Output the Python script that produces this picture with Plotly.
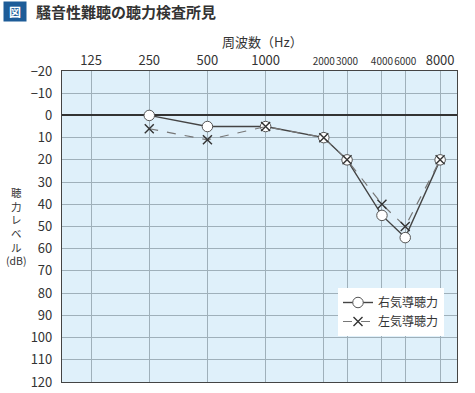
import plotly.graph_objects as go

# ---- data ----
freq_labels = ["125", "250", "500", "1000", "2000", "3000", "4000", "6000", "8000"]
freq_pos = [0, 1, 2, 3, 4, 4.4, 5, 5.4, 6]  # audiogram axis positions (octave units)

right_freqs = ["250", "500", "1000", "2000", "3000", "4000", "6000", "8000"]
right_db = [0, 5, 5, 10, 20, 45, 55, 20]
left_freqs = ["250", "500", "1000", "2000", "3000", "4000", "6000", "8000"]
left_db = [6, 11, 5, 10, 20, 40, 50, 20]
y_ticks = list(range(-20, 121, 10))
y_title_chars = ["聴", "力", "レ", "ベ", "ル", "(dB)"]

W, H = 475, 393
L, R, T, B = 62, 18, 71, 11
pw, ph = W - L - R, H - T - B

def px(x):
    return (x - L) / pw

def py(y):
    return (H - B - y) / ph

pos = dict(zip(freq_labels, freq_pos))
FONT = "Noto Sans CJK JP"

fig = go.Figure()
fig.add_trace(go.Scatter(
    x=[pos[f] for f in right_freqs], y=right_db, name="右気導聴力",
    mode="lines+markers",
    line=dict(color="#444444", width=1.4),
    marker=dict(symbol="circle", size=10.5, color="white", line=dict(color="#555555", width=1)),
))
fig.add_trace(go.Scatter(
    x=[pos[f] for f in left_freqs], y=left_db, name="左気導聴力",
    mode="lines+markers",
    line=dict(color="#777777", width=1.2, dash="dash"),
    marker=dict(symbol="x-thin-open", size=9, color="#333333", line=dict(color="#333333", width=1.4)),
))

small = {"2000", "3000", "4000", "6000"}
ticktext = [f'<span style="font-size:10px">{t}</span>' if t in small else t for t in freq_labels]

fig.update_layout(
    width=W, height=H,
    margin=dict(l=L, r=R, t=T, b=B),
    paper_bgcolor="white",
    plot_bgcolor="#dff0fa",
    font=dict(family=FONT, color="#333333", size=13),
    showlegend=True,
    legend=dict(x=px(338), y=py(288), xanchor="left", yanchor="top",
                bgcolor="white", borderwidth=0, font=dict(size=12, family=FONT),
                itemwidth=30, tracegroupgap=2),
    xaxis=dict(
        side="top", range=[-0.5, 6.29], tickmode="array", tickvals=freq_pos, ticktext=ticktext,
        tickangle=0, automargin=False,
        showgrid=True, gridcolor="#9fb0ba", gridwidth=1, zeroline=False,
        showline=True, linecolor="#444444", linewidth=1.2, mirror=True,
        ticks="", tickfont=dict(size=13, family=FONT, color="#333333"),
        fixedrange=True,
    ),
    yaxis=dict(
        autorange=False, range=[120, -20], tickmode="array", tickvals=y_ticks,
        ticktext=[("−" + str(-v)) if v < 0 else str(v) for v in y_ticks],
        automargin=False,
        showgrid=True, gridcolor="#9fb0ba", gridwidth=1,
        zeroline=True, zerolinecolor="#333333", zerolinewidth=1.6,
        showline=True, linecolor="#444444", linewidth=1.2, mirror=True,
        ticks="", ticklabelstandoff=6, tickfont=dict(size=13, family=FONT, color="#333333"),
        fixedrange=True,
    ),
)

annotations = [
    dict(x=px(15), y=py(12), text="<b>図</b>", showarrow=False, xanchor="center", yanchor="middle",
         font=dict(size=12, color="white", family=FONT), bgcolor="#1d5c98",
         borderpad=2, width=18, height=15),
    dict(x=px(34), y=py(12), text="<b>騒音性難聴の聴力検査所見</b>", showarrow=False,
         xanchor="left", yanchor="middle", font=dict(size=15, color="#333333", family=FONT)),
    dict(x=px(262), y=py(41), text="周波数（Hz）", showarrow=False, xanchor="center", yanchor="middle",
         font=dict(size=13, color="#333333", family=FONT)),
    dict(x=px(16), y=py(226), text="<br>".join(y_title_chars), showarrow=False,
         xanchor="center", yanchor="middle", align="center",
         font=dict(size=10.5, color="#333333", family=FONT)),
]
for a in annotations:
    a["xref"] = "paper"
    a["yref"] = "paper"
fig.update_layout(annotations=annotations)

fig.write_html("out.html", config={"displayModeBar": False},
               post_script="document.body.style.margin='0';document.body.style.overflow='hidden';")
